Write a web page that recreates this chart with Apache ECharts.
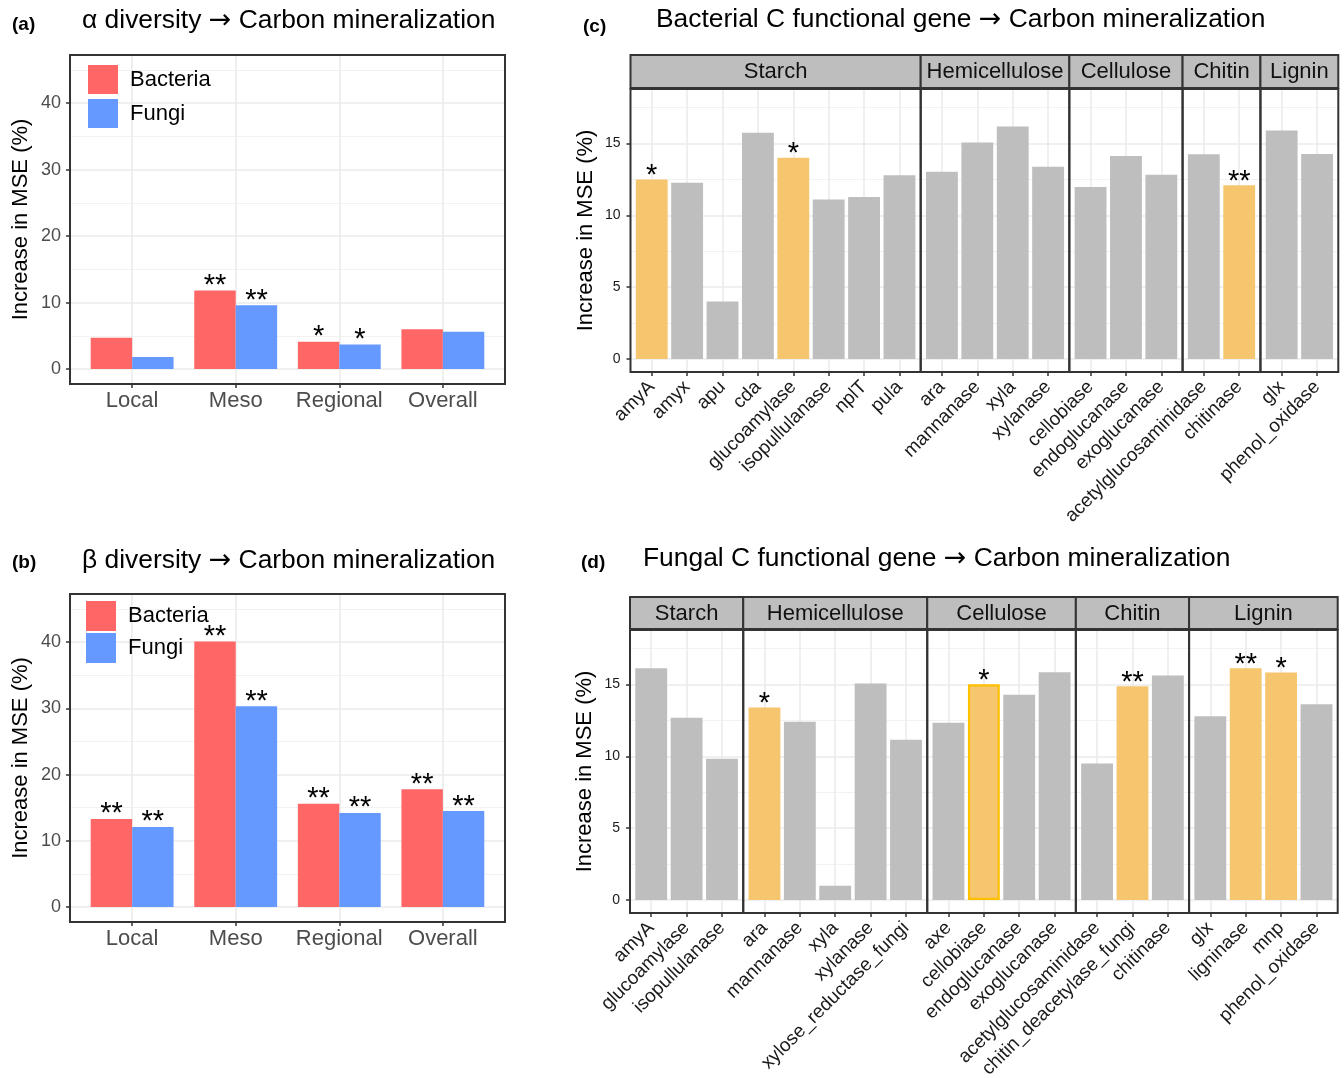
<!DOCTYPE html>
<html>
<head>
<meta charset="utf-8">
<script src="https://cdn.jsdelivr.net/npm/echarts@6/dist/echarts.min.js"></script>
<style>
  html, body { margin: 0; padding: 0; background: #ffffff; }
  #chart { width: 1344px; height: 1078px; }
</style>
</head>
<body>
<div id="chart"></div>
<script>
// ---- Data: increase in MSE (%) from random-forest importance ----
const scales = ['Local', 'Meso', 'Regional', 'Overall'];

const alphaBacteria = [4.7, 11.8, 4.1, 6.0];
const alphaFungi = [1.8, 9.6, 3.7, 5.6];
const alphaBacteriaSig = ['', '**', '*', ''];
const alphaFungiSig = ['', '**', '*', ''];

const betaBacteria = [13.3, 40.1, 15.6, 17.8];
const betaFungi = [12.1, 30.3, 14.2, 14.5];
const betaBacteriaSig = ['**', '**', '**', '**'];
const betaFungiSig = ['**', '**', '**', '**'];

const diversityTicks = [0, 10, 20, 30, 40];
const diversityMinorTicks = [5, 15, 25, 35, 45];

const bacGenes = ['amyA', 'amyx', 'apu', 'cda', 'glucoamylase', 'isopullulanase', 'nplT', 'pula',
  'ara', 'mannanase', 'xyla', 'xylanase',
  'cellobiase', 'endoglucanase', 'exoglucanase',
  'acetylglucosaminidase', 'chitinase',
  'glx', 'phenol_oxidase'];
const bacGroups = ['Starch', 'Starch', 'Starch', 'Starch', 'Starch', 'Starch', 'Starch', 'Starch',
  'Hemicellulose', 'Hemicellulose', 'Hemicellulose', 'Hemicellulose',
  'Cellulose', 'Cellulose', 'Cellulose',
  'Chitin', 'Chitin',
  'Lignin', 'Lignin'];
const bacValues = [12.5, 12.27, 4.0, 15.75, 14.02, 11.1, 11.29, 12.8,
  13.04, 15.07, 16.19, 13.39,
  11.97, 14.14, 12.83,
  14.25, 12.1,
  15.91, 14.28];
const bacSig = ['*', '', '', '', '*', '', '', '',
  '', '', '', '',
  '', '', '',
  '', '**',
  '', ''];

const funGenes = ['amyA', 'glucoamylase', 'isopullulanase',
  'ara', 'mannanase', 'xyla', 'xylanase', 'xylose_reductase_fungi',
  'axe', 'cellobiase', 'endoglucanase', 'exoglucanase',
  'acetylglucosaminidase', 'chitin_deacetylase_fungi', 'chitinase',
  'glx', 'ligninase', 'mnp', 'phenol_oxidase'];
const funGroups = ['Starch', 'Starch', 'Starch',
  'Hemicellulose', 'Hemicellulose', 'Hemicellulose', 'Hemicellulose', 'Hemicellulose',
  'Cellulose', 'Cellulose', 'Cellulose', 'Cellulose',
  'Chitin', 'Chitin', 'Chitin',
  'Lignin', 'Lignin', 'Lignin', 'Lignin'];
const funValues = [16.14, 12.7, 9.84,
  13.4, 12.42, 1.0, 15.07, 11.16,
  12.35, 15.02, 14.3, 15.86,
  9.51, 14.88, 15.63,
  12.79, 16.14, 15.84, 13.63];
const funSig = ['', '', '',
  '*', '', '', '', '',
  '', '*', '', '',
  '', '**', '',
  '', '**', '*', ''];
const fungalOutlined = 'cellobiase';

const geneTicks = [0, 5, 10, 15];
const geneMinorTicks = [2.5, 7.5, 12.5, 17.5];

// ---- Styling ----
const FONT = "'Liberation Sans', Arial, 'DejaVu Sans', sans-serif";
const ARROW_FONT = "'DejaVu Sans', sans-serif";
const RED = '#FF6666';
const BLUE = '#6699FF';
const GREY = '#BEBEBE';
const ORANGE = '#F6C66F';
const OUTLINE = '#FFC000';
const GRID_MAJOR = '#EBEBEB';
const GRID_MINOR = '#F2F2F2';
const FRAME = '#333333';

const grids = [], xAxes = [], yAxes = [], series = [], graphics = [];

function addPanel(p) {
  const gi = grids.length;
  grids.push({ left: p.left, top: p.top, width: p.width, height: p.height,
    containLabel: false, outerBoundsMode: 'none' });
  const xi = xAxes.length;
  xAxes.push({
    type: 'value', gridIndex: gi, min: p.xmin, max: p.xmax, position: 'bottom',
    axisLine: { show: false, onZero: false },
    axisTick: { show: true, customValues: p.xvals, length: 4, lineStyle: { color: FRAME, width: 1.5 } },
    axisLabel: Object.assign({ show: true, customValues: p.xvals, fontFamily: FONT,
      formatter: v => { const k = Math.round(v); return p.xnames[k] !== undefined ? p.xnames[k] : ''; } }, p.xlabel),
    splitLine: { show: true, lineStyle: { color: GRID_MAJOR, width: 1.6 } }
  });
  const yi = yAxes.length;
  yAxes.push({
    type: 'value', gridIndex: gi, min: p.ymin, max: p.ymax, position: 'left',
    axisLine: { show: false, onZero: false },
    axisTick: { show: p.showY, customValues: p.major, length: 4, lineStyle: { color: FRAME, width: 1.5 } },
    axisLabel: Object.assign({ show: p.showY, customValues: p.major, fontFamily: FONT }, p.ylabel),
    splitLine: { show: true, lineStyle: { color: GRID_MAJOR, width: 1.6 } }
  });
  yAxes.push({
    type: 'value', gridIndex: gi, min: p.ymin, max: p.ymax, position: 'left',
    axisLine: { show: false, onZero: false },
    axisTick: { show: false, customValues: p.minor },
    axisLabel: { show: false, customValues: p.minor },
    splitLine: { show: true, lineStyle: { color: GRID_MINOR, width: 1 } }
  });
  graphics.push({ type: 'rect', z: 100, silent: true,
    shape: { x: p.left, y: p.top, width: p.width, height: p.height },
    style: { fill: 'none', stroke: FRAME, lineWidth: 2 } });
  return { xi, yi };
}

function starLabel(sigs, dist) {
  return { show: true, position: 'top', distance: dist, color: '#000', fontSize: 29, fontFamily: FONT,
    formatter: prm => sigs[prm.dataIndex] || '' };
}

// ---- Panels (a) and (b): diversity by scale ----
function diversityPanel(top, height, bac, fun, bacSig, funSig) {
  const ax = addPanel({
    left: 70, top: top, width: 435, height: height,
    xmin: -0.6, xmax: scales.length - 0.4, xvals: scales.map((_, i) => i), xnames: scales,
    xlabel: { fontSize: 22, color: '#4D4D4D', margin: 6 },
    ymin: -2.25, ymax: 47.25, major: diversityTicks, minor: diversityMinorTicks, showY: true,
    ylabel: { fontSize: 18, color: '#4D4D4D', margin: 9 }
  });
  series.push({ type: 'bar', name: 'Bacteria', xAxisIndex: ax.xi, yAxisIndex: ax.yi,
    barWidth: '40%', barGap: '0%', itemStyle: { color: RED },
    data: bac.map((v, i) => [i, v]), label: starLabel(bacSig, -10) });
  series.push({ type: 'bar', name: 'Fungi', xAxisIndex: ax.xi, yAxisIndex: ax.yi,
    barWidth: '40%', barGap: '0%', itemStyle: { color: BLUE },
    data: fun.map((v, i) => [i, v]), label: starLabel(funSig, -10) });
}
diversityPanel(55, 329, alphaBacteria, alphaFungi, alphaBacteriaSig, alphaFungiSig);
diversityPanel(594, 328, betaBacteria, betaFungi, betaBacteriaSig, betaFungiSig);

// ---- Panels (c) and (d): functional genes faceted by substrate ----
function genePanel(left, right, top, bottom, stripTop, genes, groups, values, sigs, outlined) {
  const order = [];
  groups.forEach(g => { if (order.indexOf(g) < 0) order.push(g); });
  const facets = order.map(g => {
    const idx = groups.map((x, i) => x === g ? i : -1).filter(i => i >= 0);
    return { name: g, idx: idx };
  });
  // facet widths proportional to the expanded discrete range (n - 1 + 2 * 0.6)
  const units = facets.reduce((s, f) => s + f.idx.length + 0.2, 0);
  const u = (right - left) / units;
  let x0 = left;
  facets.forEach((f, fi) => {
    const w = (f.idx.length + 0.2) * u;
    const ax = addPanel({
      left: x0, top: top, width: w, height: bottom - top,
      xmin: -0.6, xmax: f.idx.length - 0.4, xvals: f.idx.map((_, i) => i),
      xnames: f.idx.map(i => genes[i]),
      xlabel: { fontSize: 19, color: '#1A1A1A', rotate: 45, margin: 12 },
      ymin: -0.9, ymax: 18.8, major: geneTicks, minor: geneMinorTicks, showY: fi === 0,
      ylabel: { fontSize: 14, color: '#1A1A1A', margin: 10 }
    });
    const fsig = f.idx.map(i => sigs[i]);
    series.push({ type: 'bar', name: f.name, xAxisIndex: ax.xi, yAxisIndex: ax.yi, barWidth: '90%',
      data: f.idx.map((gIdx, i) => ({
        value: [i, values[gIdx]],
        itemStyle: genes[gIdx] === outlined && sigs[gIdx]
          ? { color: ORANGE, borderColor: OUTLINE, borderWidth: 2.2 }
          : { color: sigs[gIdx] ? ORANGE : GREY }
      })),
      label: starLabel(fsig, -11) });
    // facet strip
    graphics.push({ type: 'rect', z: 100, silent: true,
      shape: { x: x0, y: stripTop, width: w, height: top - stripTop - 1 },
      style: { fill: GREY, stroke: FRAME, lineWidth: 2 } });
    graphics.push({ type: 'text', z: 101, silent: true,
      style: { x: x0 + w / 2, y: (stripTop + top) / 2, text: f.name, fill: '#111111',
        font: '22px ' + FONT, textAlign: 'center', textVerticalAlign: 'middle' } });
    x0 += w;
  });
}
genePanel(630.5, 1338.3, 89, 372, 55, bacGenes, bacGroups, bacValues, bacSig, null);
genePanel(630, 1337.7, 630, 913, 597, funGenes, funGroups, funValues, funSig, fungalOutlined);

// ---- Titles, tags and axis titles ----
function text(x, y, str, font, rot) {
  graphics.push({ type: 'text', z: 101, silent: true, x: x, y: y, rotation: rot || 0,
    style: { x: 0, y: 0, text: str, font: font, fill: '#000',
      textAlign: rot ? 'center' : 'left', textVerticalAlign: 'middle' } });
}
// plot titles with the arrow drawn in a font that has a full-width arrow glyph
function title(x, y, left, right) {
  graphics.push({ type: 'text', z: 101, silent: true, x: x, y: y,
    style: { x: 0, y: 0, text: '{t|' + left + ' }{a|→}{t| ' + right + '}', fill: '#000',
      textAlign: 'left', textVerticalAlign: 'middle',
      rich: { t: { font: '26.4px ' + FONT, fill: '#000' },
              a: { font: '27px ' + ARROW_FONT, fill: '#000' } } } });
}
text(12, 25, '(a)', 'bold 19px ' + FONT);
title(82, 21, 'α diversity', 'Carbon mineralization');
text(12, 563, '(b)', 'bold 19px ' + FONT);
title(82, 561, 'β diversity', 'Carbon mineralization');
text(583, 27, '(c)', 'bold 19px ' + FONT);
title(656, 20, 'Bacterial C functional gene', 'Carbon mineralization');
text(581, 563, '(d)', 'bold 19px ' + FONT);
title(643, 559, 'Fungal C functional gene', 'Carbon mineralization');

const yTitle = 'Increase in MSE (%)';
text(20.5, 219.5, yTitle, '22px ' + FONT, Math.PI / 2);
text(20.5, 758, yTitle, '22px ' + FONT, Math.PI / 2);
text(586, 230.5, yTitle, '22px ' + FONT, Math.PI / 2);
text(585, 771.5, yTitle, '22px ' + FONT, Math.PI / 2);

const chart = echarts.init(document.getElementById('chart'), null, { renderer: 'canvas' });
chart.setOption({
  animation: false,
  backgroundColor: '#ffffff',
  textStyle: { fontFamily: FONT },
  grid: grids,
  xAxis: xAxes,
  yAxis: yAxes,
  legend: [
    { data: ['Bacteria', 'Fungi'], orient: 'vertical', left: 88, top: 65, padding: 0,
      itemWidth: 30, itemHeight: 29, itemGap: 5, icon: 'rect', selectedMode: false,
      textStyle: { fontSize: 22, color: '#000', fontFamily: FONT, padding: [0, 0, 0, 7] } },
    { data: ['Bacteria', 'Fungi'], orient: 'vertical', left: 86, top: 601, padding: 0,
      itemWidth: 30, itemHeight: 30, itemGap: 2, icon: 'rect', selectedMode: false,
      textStyle: { fontSize: 22, color: '#000', fontFamily: FONT, padding: [0, 0, 0, 7] } }
  ],
  series: series,
  graphic: { elements: graphics }
});
</script>
</body>
</html>
